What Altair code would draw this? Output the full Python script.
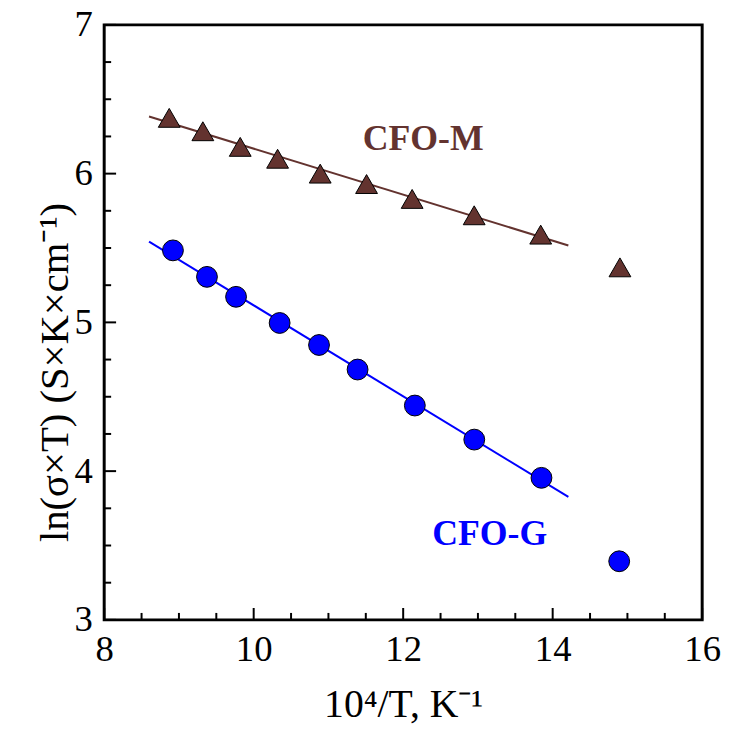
import altair as alt
import pandas as pd

# ---- data ----
m_x = [8.87, 9.32, 9.82, 10.32, 10.89, 11.51, 12.12, 12.95, 13.84, 14.90]
m_y = [6.375, 6.285, 6.18, 6.10, 6.00, 5.93, 5.83, 5.72, 5.59, 5.37]
g_x = [8.92, 9.375, 9.764, 10.347, 10.874, 11.39, 12.156, 12.951, 13.85, 14.89]
g_y = [5.484, 5.306, 5.172, 4.996, 4.848, 4.683, 4.441, 4.212, 3.955, 3.394]
fit_x = [8.6, 14.21]
m_fit_y = [6.384, 5.517]
g_fit_y = [5.543, 3.827]
labels = ["CFO-M", "CFO-G"]
label_x = [12.267, 13.157]
label_y = [6.160, 3.502]
x_major = [8, 10, 12, 14, 16]
x_minor = [8.5, 9, 9.5, 10.5, 11, 11.5, 12.5, 13, 13.5, 14.5, 15, 15.5]
y_major = [3, 4, 5, 6, 7]
y_minor = [3.25, 3.5, 3.75, 4.25, 4.5, 4.75, 5.25, 5.5, 5.75, 6.25, 6.5, 6.75]

BROWN = "#63332F"
BLUE = "#0000FF"
FONT = "Liberation Serif"
W, H = 603, 600

xs = alt.Scale(domain=[8, 16], nice=False, zero=False)
ys = alt.Scale(domain=[3, 7], nice=False, zero=False)

xaxis = alt.Axis(values=x_major, format="d", domain=False, ticks=False, tickSize=0, grid=False,
                 labelFont=FONT, labelFontSize=37, labelColor="black", labelPadding=12,
                 labelFlush=False, title="10\u2074/T, K\u207b\u00b9", titleFont=FONT,
                 titleFontSize=40, titleFontWeight="normal", titleColor="black",
                 titleX=W / 2, titleY=97, titleAlign="center", titleBaseline="alphabetic")
yaxis = alt.Axis(values=y_major, format="d", domain=False, ticks=False, tickSize=0, grid=False,
                 labelFont=FONT, labelFontSize=37, labelColor="black", labelPadding=12,
                 labelFlush=False, title="ln(\u03c3\u00d7T) (S\u00d7K\u00d7cm\u207b\u00b9)",
                 titleFont=FONT, titleFontSize=41, titleFontWeight="normal", titleColor="black",
                 titleAngle=270, titleX=-37, titleY=350, titleAlign="center",
                 titleBaseline="alphabetic")

df_m = pd.DataFrame({"x": m_x, "y": m_y})
df_g = pd.DataFrame({"x": g_x, "y": g_y})
df_mf = pd.DataFrame({"x": fit_x, "y": m_fit_y})
df_gf = pd.DataFrame({"x": fit_x, "y": g_fit_y})
df_lab = pd.DataFrame({"x": label_x, "y": label_y, "t": labels, "c": [BROWN, BLUE]})

base_axes = alt.Chart(df_m).mark_point(opacity=0).encode(
    x=alt.X("x:Q", scale=xs, axis=xaxis),
    y=alt.Y("y:Q", scale=ys, axis=yaxis),
)

line_m = alt.Chart(df_mf).mark_line(color=BROWN, strokeWidth=2).encode(
    x=alt.X("x:Q", scale=xs), y=alt.Y("y:Q", scale=ys))
line_g = alt.Chart(df_gf).mark_line(color=BLUE, strokeWidth=2).encode(
    x=alt.X("x:Q", scale=xs), y=alt.Y("y:Q", scale=ys))

pts_m = alt.Chart(df_m).mark_point(shape="triangle-up", size=484, fill=BROWN, fillOpacity=1,
                                   stroke="black", strokeWidth=1, opacity=1).encode(
    x=alt.X("x:Q", scale=xs), y=alt.Y("y:Q", scale=ys))
pts_g = alt.Chart(df_g).mark_point(shape="circle", size=441, fill=BLUE, fillOpacity=1,
                                   stroke="black", strokeWidth=1, opacity=1).encode(
    x=alt.X("x:Q", scale=xs), y=alt.Y("y:Q", scale=ys))

txt = alt.Chart(df_lab).mark_text(font=FONT, fontSize=36, fontWeight="bold",
                                  align="center", baseline="alphabetic").encode(
    x=alt.X("x:Q", scale=xs), y=alt.Y("y:Q", scale=ys),
    text="t:N", color=alt.Color("c:N", scale=None))

# inward ticks
xt_major = alt.Chart(pd.DataFrame({"x": x_major})).mark_rule(color="black", strokeWidth=2).encode(
    x=alt.X("x:Q", scale=xs), y=alt.value(H), y2=alt.value(H - 12))
xt_minor = alt.Chart(pd.DataFrame({"x": x_minor})).mark_rule(color="black", strokeWidth=2).encode(
    x=alt.X("x:Q", scale=xs), y=alt.value(H), y2=alt.value(H - 7))
yt_major = alt.Chart(pd.DataFrame({"y": y_major})).mark_rule(color="black", strokeWidth=2).encode(
    y=alt.Y("y:Q", scale=ys), x=alt.value(0), x2=alt.value(12))
yt_minor = alt.Chart(pd.DataFrame({"y": y_minor})).mark_rule(color="black", strokeWidth=2).encode(
    y=alt.Y("y:Q", scale=ys), x=alt.value(0), x2=alt.value(7))

chart = alt.layer(base_axes, xt_major, xt_minor, yt_major, yt_minor,
                  line_m, line_g, pts_m, pts_g, txt).properties(
    width=W, height=H,
    autosize=alt.AutoSizeParams(type="none"),
    padding={"left": 97, "top": 14, "right": 20, "bottom": 105},
    background="white",
).configure_view(stroke="black", strokeWidth=3)

chart.save("out.html", embed_options={"renderer": "svg", "actions": False})
